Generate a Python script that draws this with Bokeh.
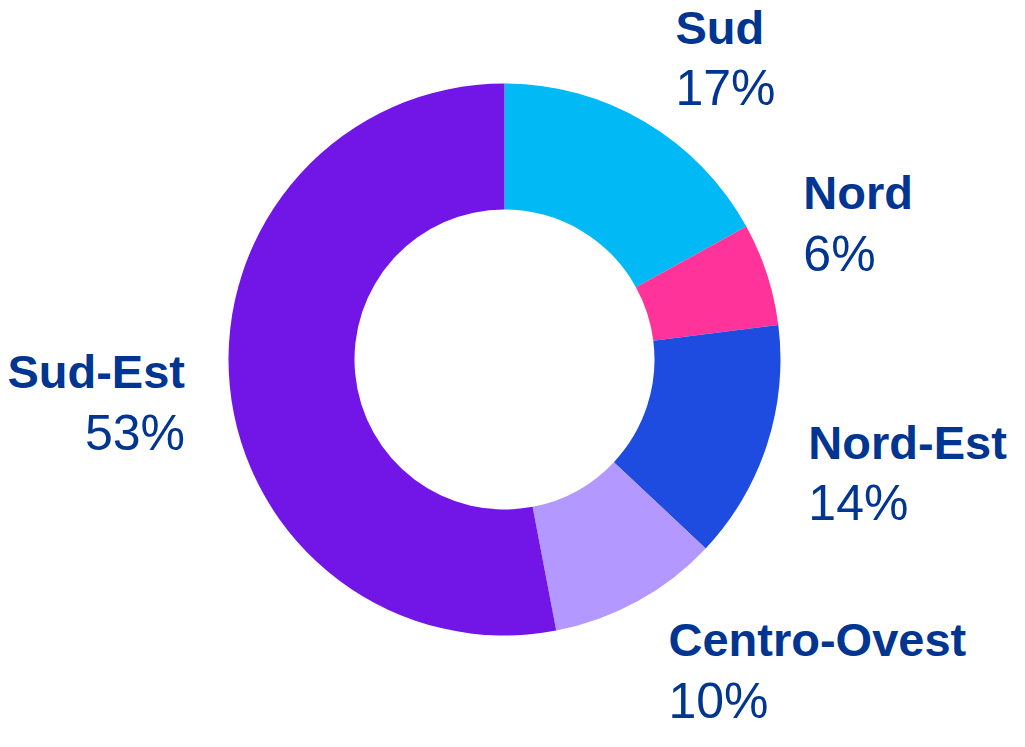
import numpy as np
from bokeh.plotting import figure
from bokeh.models import Range1d, ColumnDataSource
from bokeh.embed import file_html
from bokeh.resources import INLINE
from bokeh.core.properties import value

# ---- data ----
regions = ["Sud", "Nord", "Nord-Est", "Centro-Ovest", "Sud-Est"]
shares = [17, 6, 14, 10, 53]
colors = ["#00B9F5", "#FF3399", "#1E4BE0", "#B399FF", "#7216E8"]

# ---- layout (reference pixel frame, y pointing down -> negated) ----
CX, CY = 512, 367
R_OUT, R_IN = 276, 150
R_LABEL = 330
nudges = {"Sud": (3, -16), "Nord": (-15, -33), "Nord-Est": (-10, 13),
          "Centro-Ovest": (5, 23), "Sud-Est": (9, 13)}
TEXT_SHIFT = 18  # renderer places alphabetic baseline lower; compensate
TEXT_COLOR = "#003591"

vals = np.array(shares, dtype=float)
frac = vals / vals.sum()
cum = np.concatenate([[0], np.cumsum(frac)])
start = np.pi / 2 - cum[:-1] * 2 * np.pi
end = np.pi / 2 - cum[1:] * 2 * np.pi
mid = (start + end) / 2

src = ColumnDataSource(dict(x=[CX] * len(regions), y=[-CY] * len(regions),
                            start=start, end=end, color=colors))

p = figure(width=1009, height=731, output_backend="svg", toolbar_location=None,
           x_range=Range1d(8, 1017), y_range=Range1d(-739, -8), min_border=0)
p.axis.visible = False
p.grid.visible = False
p.outline_line_color = None
p.background_fill_color = "white"

p.annular_wedge(x="x", y="y", inner_radius=R_IN, outer_radius=R_OUT,
                start_angle="start", end_angle="end", direction="clock",
                fill_color="color", line_color=None, source=src)

nx, ny, nalign, px_, py_ = [], [], [], [], []
pct_labels = []
for name, s, a in zip(regions, shares, mid):
    ax = CX + R_LABEL * np.cos(a) + nudges[name][0]
    ay = CY - R_LABEL * np.sin(a) + nudges[name][1] - TEXT_SHIFT
    align = "left" if np.cos(a) > 0 else "right"
    nx.append(ax); ny.append(-(ay - 14))
    nalign.append(align)
    px_.append(ax); py_.append(-(ay + 47))
    pct_labels.append(f"{s}%")

name_src = ColumnDataSource(dict(x=nx, y=ny, t=regions, a=nalign))
pct_src = ColumnDataSource(dict(x=px_, y=py_, t=pct_labels, a=nalign))

p.text(x="x", y="y", text="t", text_align="a", text_baseline="alphabetic",
       text_font=value("Liberation Sans"), text_font_style="bold",
       text_font_size="47px", text_color=TEXT_COLOR, source=name_src)
p.text(x="x", y="y", text="t", text_align="a", text_baseline="alphabetic",
       text_font=value("Liberation Sans"), text_font_size="50px",
       text_color=TEXT_COLOR, source=pct_src)

open("out.html", "w").write(file_html(p, INLINE))
